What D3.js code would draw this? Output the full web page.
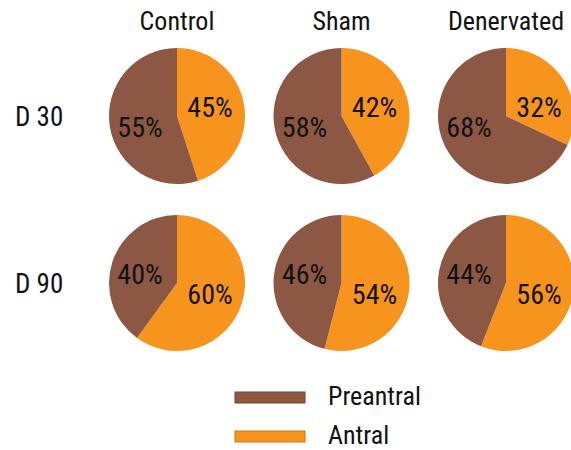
<!DOCTYPE html>
<html>
<head>
<meta charset="utf-8">
<script src="https://cdn.jsdelivr.net/npm/d3@7"></script>
<style>
  body { margin: 0; background: #fff; }
  text { font-family: "Liberation Sans Narrow", "Roboto Condensed", "Arial Narrow", sans-serif; fill: #111; }
</style>
</head>
<body>
<svg id="chart"></svg>
<script>
// Chart size
const width = 571;
const height = 450;

// Data
const groups = ["Control", "Sham", "Denervated"];
const days = ["D 30", "D 90"];
const series = ["Preantral", "Antral"];
const preantral = [[55, 58, 68], [40, 46, 44]];
const antral = [[45, 42, 32], [60, 54, 56]];

const colors = { "Preantral": "#8c5743", "Antral": "#f7941d" };

const svg = d3.select("#chart")
    .attr("width", width)
    .attr("height", height);

// Positions of the pies
const x = d3.scalePoint().domain(groups).range([177, 506]);
const y = d3.scalePoint().domain(days).range([116, 283]);
const radius = 68;

const pie = d3.pie().sort(null).value(d => d.value);
const arc = d3.arc().innerRadius(0).outerRadius(radius);

// Column titles
svg.selectAll(".col-title")
    .data(groups)
    .enter().append("text")
    .attr("class", "col-title")
    .attr("x", d => x(d))
    .attr("y", 30)
    .attr("text-anchor", "middle")
    .style("font-size", "26px")
    .text(d => d);

// Row labels
svg.selectAll(".row-label")
    .data(days)
    .enter().append("text")
    .attr("class", "row-label")
    .attr("x", 15)
    .attr("y", d => y(d) + 10)
    .style("font-size", "27px")
    .text(d => d);

// Pies
days.forEach((day, i) => {
    groups.forEach((grp, j) => {
        const slices = [
            { key: "Antral", value: antral[i][j] },
            { key: "Preantral", value: preantral[i][j] }
        ];
        const arcs = pie(slices);
        const g = svg.append("g")
            .attr("transform", `translate(${x(grp)},${y(day)})`);

        g.selectAll("path")
            .data(arcs)
            .enter().append("path")
            .attr("d", arc)
            .attr("fill", d => colors[d.data.key]);

        // antral label on the right, preantral on the left; bigger slice sits lower
        const maxVal = d3.max(slices, d => d.value);
        g.selectAll("text")
            .data(arcs)
            .enter().append("text")
            .attr("x", d => d.data.key === "Antral" ? 33 : -37)
            .attr("y", d => d.data.value === maxVal ? 11 : -9)
            .attr("text-anchor", "middle")
            .attr("dy", "0.36em")
            .style("font-size", "28px")
            .text(d => d.data.value + "%");
    });
});

// Legend
const legend = svg.append("g")
    .attr("transform", "translate(235,392)");

const legendItems = legend.selectAll("g")
    .data(series)
    .enter().append("g")
    .attr("transform", (d, i) => `translate(0,${i * 39})`);

legendItems.append("rect")
    .attr("width", 70)
    .attr("height", 11)
    .attr("fill", d => colors[d])
    .attr("stroke", d => d3.color(colors[d]).darker(0.6))
    .attr("stroke-width", 1);

legendItems.append("text")
    .attr("x", 93)
    .attr("y", 13)
    .style("font-size", "26px")
    .text(d => d);
</script>
</body>
</html>
